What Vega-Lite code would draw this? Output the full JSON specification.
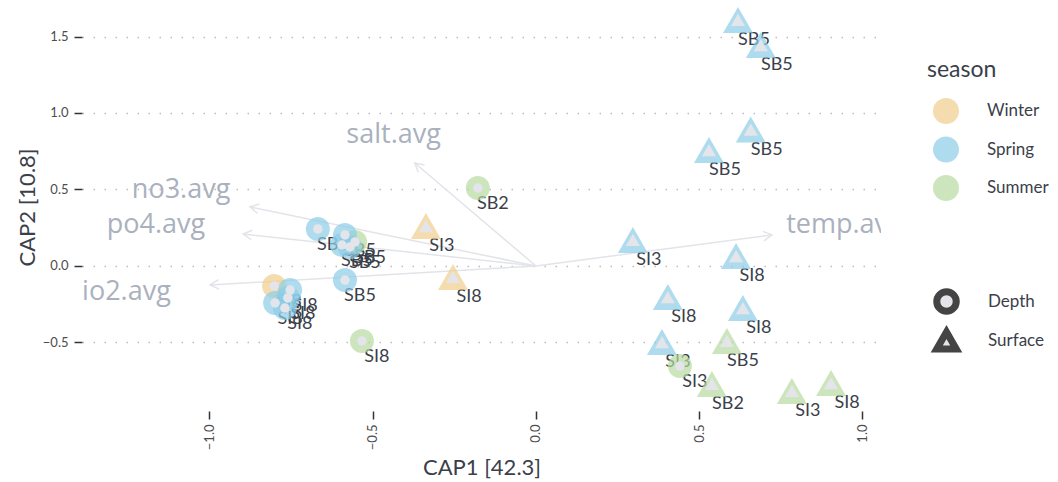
{
  "$schema": "https://vega.github.io/schema/vega-lite/v6.json",
  "width": 799,
  "height": 408,
  "autosize": {"type": "none"},
  "padding": {"left": 82, "top": 3, "right": 177, "bottom": 71},
  "background": "white",
  "datasets": {
    "points": [
      {"x": 0.619, "y": 1.608, "season": "Spring", "type": "Surface", "site": "SB5"},
      {"x": 0.689, "y": 1.444, "season": "Spring", "type": "Surface", "site": "SB5"},
      {"x": 0.658, "y": 0.892, "season": "Spring", "type": "Surface", "site": "SB5"},
      {"x": 0.530, "y": 0.758, "season": "Spring", "type": "Surface", "site": "SB5"},
      {"x": 0.297, "y": 0.170, "season": "Spring", "type": "Surface", "site": "SI3"},
      {"x": 0.613, "y": 0.065, "season": "Spring", "type": "Surface", "site": "SI8"},
      {"x": 0.404, "y": -0.203, "season": "Spring", "type": "Surface", "site": "SI8"},
      {"x": 0.634, "y": -0.275, "season": "Spring", "type": "Surface", "site": "SI8"},
      {"x": 0.386, "y": -0.497, "season": "Spring", "type": "Surface", "site": "SI3"},
      {"x": 0.585, "y": -0.490, "season": "Summer", "type": "Surface", "site": "SB5"},
      {"x": 0.441, "y": -0.654, "season": "Summer", "type": "Depth", "site": "SI3"},
      {"x": 0.539, "y": -0.771, "season": "Summer", "type": "Surface", "site": "SB2"},
      {"x": 0.784, "y": -0.817, "season": "Summer", "type": "Surface", "site": "SI3"},
      {"x": 0.904, "y": -0.765, "season": "Summer", "type": "Surface", "site": "SI8"},
      {"x": -0.337, "y": 0.261, "season": "Winter", "type": "Surface", "site": "SI3"},
      {"x": -0.254, "y": -0.072, "season": "Winter", "type": "Surface", "site": "SI8"},
      {"x": -0.178, "y": 0.510, "season": "Summer", "type": "Depth", "site": "SB2"},
      {"x": -0.533, "y": -0.490, "season": "Summer", "type": "Depth", "site": "SI8"},
      {"x": -0.554, "y": 0.157, "season": "Summer", "type": "Depth", "site": "SB5"},
      {"x": -0.585, "y": -0.092, "season": "Spring", "type": "Depth", "site": "SB5"},
      {"x": -0.668, "y": 0.242, "season": "Spring", "type": "Depth", "site": "SB5"},
      {"x": -0.585, "y": 0.203, "season": "Spring", "type": "Depth", "site": "SB5"},
      {"x": -0.594, "y": 0.137, "season": "Spring", "type": "Depth", "site": "SB5"},
      {"x": -0.570, "y": 0.124, "season": "Spring", "type": "Depth", "site": "SB5"},
      {"x": -0.802, "y": -0.131, "season": "Winter", "type": "Depth", "site": "SI8"},
      {"x": -0.753, "y": -0.157, "season": "Spring", "type": "Depth", "site": "SI8"},
      {"x": -0.760, "y": -0.209, "season": "Spring", "type": "Depth", "site": "SI8"},
      {"x": -0.799, "y": -0.242, "season": "Spring", "type": "Depth", "site": "SI8"},
      {"x": -0.769, "y": -0.275, "season": "Spring", "type": "Depth", "site": "SI8"}
    ],
    "arrows": [
      {"var": "salt.avg", "x": -0.371, "y": 0.673, "lx": -0.436, "ly": 0.856},
      {"var": "no3.avg", "x": -0.876, "y": 0.386, "lx": -1.087, "ly": 0.497},
      {"var": "po4.avg", "x": -0.897, "y": 0.209, "lx": -1.164, "ly": 0.268},
      {"var": "sio2.avg", "x": -0.998, "y": -0.124, "lx": -1.274, "ly": -0.170},
      {"var": "temp.avg", "x": 0.723, "y": 0.203, "lx": 0.945, "ly": 0.268}
    ]
  },
  "layer": [
    {
      "data": {"name": "arrows"},
      "mark": {"type": "rule", "color": "#e2e4e9", "strokeWidth": 1.5},
      "encoding": {
        "x": {"field": "x", "type": "quantitative", "scale": {"domain": [-1.3905, 1.057], "nice": false, "zero": false},
              "axis": {"title": "CAP1 [42.3]", "grid": false, "values": [-1, -0.5, 0, 0.5, 1], "format": ".1f", "labelAngle": 270, "labelPadding": 5, "titlePadding": 8}},
        "y": {"field": "y", "type": "quantitative", "scale": {"domain": [-0.948, 1.719], "nice": false, "zero": false},
              "axis": {"title": "CAP2 [10.8]", "grid": true, "values": [-0.5, 0, 0.5, 1, 1.5], "format": ".1f", "labelPadding": 6, "titlePadding": 3}},
        "x2": {"datum": 0},
        "y2": {"datum": 0}
      }
    },
    {
      "data": {"name": "arrows"},
      "transform": [{"calculate": "atan2(326.5*datum.x, 153*datum.y)*180/PI", "as": "ang"}],
      "mark": {"type": "point", "shape": "M-0.55,1L0,0L0.55,1", "filled": false, "stroke": "#e2e4e9", "strokeWidth": 1.5, "size": 300, "opacity": 1},
      "encoding": {
        "x": {"field": "x", "type": "quantitative"},
        "y": {"field": "y", "type": "quantitative"},
        "angle": {"field": "ang", "type": "quantitative", "scale": null}
      }
    },
    {
      "data": {"name": "arrows"},
      "mark": {"type": "text", "fontSize": 27, "color": "#a9b1be", "clip": true, "font": "Open Sans"},
      "encoding": {
        "x": {"field": "lx", "type": "quantitative"},
        "y": {"field": "ly", "type": "quantitative"},
        "text": {"field": "var"}
      }
    },
    {
      "data": {"name": "points"},
      "transform": [{"filter": "datum.type == 'Surface'"}],
      "mark": {"type": "text", "fontSize": 18, "color": "#3b3f4a", "dx": 16, "dy": 20, "font": "Lato"},
      "encoding": {
        "x": {"field": "x", "type": "quantitative"},
        "y": {"field": "y", "type": "quantitative"},
        "text": {"field": "site"}
      }
    },
    {
      "data": {"name": "points"},
      "transform": [{"filter": "datum.type == 'Depth'"}],
      "mark": {"type": "text", "fontSize": 18, "color": "#3b3f4a", "dx": 15, "dy": 16, "font": "Lato"},
      "encoding": {
        "x": {"field": "x", "type": "quantitative"},
        "y": {"field": "y", "type": "quantitative"},
        "text": {"field": "site"}
      }
    },
    {
      "data": {"name": "points"},
      "mark": {"type": "point", "filled": true, "opacity": 0.7, "strokeWidth": 0},
      "encoding": {
        "x": {"field": "x", "type": "quantitative"},
        "y": {"field": "y", "type": "quantitative"},
        "color": {"field": "season", "type": "nominal", "title": "season",
                  "scale": {"domain": ["Winter", "Spring", "Summer"], "range": ["#f1cd8b", "#8bcde7", "#b8daa1"]},
                  "legend": {"orient": "none", "legendX": 845, "legendY": 56, "symbolType": "circle", "symbolSize": 676, "titleFontSize": 23, "titleFontWeight": "normal", "titleColor": "#3b3f4a", "titlePadding": 16, "labelFontSize": 17, "labelColor": "#3b3f4a", "labelOffset": 28, "symbolOffset": 6, "rowPadding": 12.5, "symbolStrokeWidth": 0}},
        "shape": {"field": "type", "type": "nominal", "title": null,
                  "scale": {"domain": ["Depth", "Surface"], "range": ["circle", "triangle-up"]},
                  "legend": {"orient": "none", "legendX": 845, "legendY": 285, "symbolSize": 380, "labelFontSize": 17, "labelColor": "#3b3f4a", "labelOffset": 28, "symbolOffset": 6, "rowPadding": -8,
                             "symbolFillColor": "#e3e5ea", "symbolStrokeColor": "#444444", "symbolStrokeWidth": 7, "symbolOpacity": 1,
                             "encode": {"symbols": {"update": {"fill": {"value": "#e3e5ea"}, "stroke": {"value": "#444444"}, "strokeWidth": {"value": 7}, "opacity": {"value": 1}}}}}},
        "size": {"field": "type", "type": "nominal", "scale": {"domain": ["Depth", "Surface"], "range": [576, 900]}, "legend": null}
      }
    },
    {
      "data": {"name": "points"},
      "mark": {"type": "point", "filled": true, "color": "#e3e5ea", "opacity": 1, "strokeWidth": 0},
      "encoding": {
        "x": {"field": "x", "type": "quantitative"},
        "y": {"field": "y", "type": "quantitative"},
        "shape": {"field": "type", "type": "nominal", "title": null,
                  "legend": {"orient": "none", "legendX": 845, "legendY": 285, "symbolSize": 380, "labelFontSize": 17, "labelColor": "#3b3f4a", "labelOffset": 28, "symbolOffset": 6, "rowPadding": -8,
                             "symbolFillColor": "#e3e5ea", "symbolStrokeColor": "#444444", "symbolStrokeWidth": 7, "symbolOpacity": 1,
                             "encode": {"symbols": {"update": {"fill": {"value": "#e3e5ea"}, "stroke": {"value": "#444444"}, "strokeWidth": {"value": 7}, "opacity": {"value": 1}}}}}},
        "size": {"field": "type", "type": "nominal", "scale": {"domain": ["Depth", "Surface"], "range": [90, 200]}, "legend": null}
      }
    }
  ],
  "resolve": {"scale": {"size": "independent"}},
  "config": {
    "font": "Lato",
    "view": {"stroke": null},
    "axis": {
      "domain": false,
      "tickColor": "#333333",
      "tickSize": 8,
      "tickWidth": 1.5,
      "labelColor": "#4d4d4d",
      "labelFontSize": 13,
      "titleFontSize": 22,
      "titleFontWeight": "normal",
      "titleColor": "#3b3f4a",
      "gridColor": "#bdbdbd",
      "gridDash": [1.5, 9.5],
      "gridWidth": 1.5
    }
  }
}
